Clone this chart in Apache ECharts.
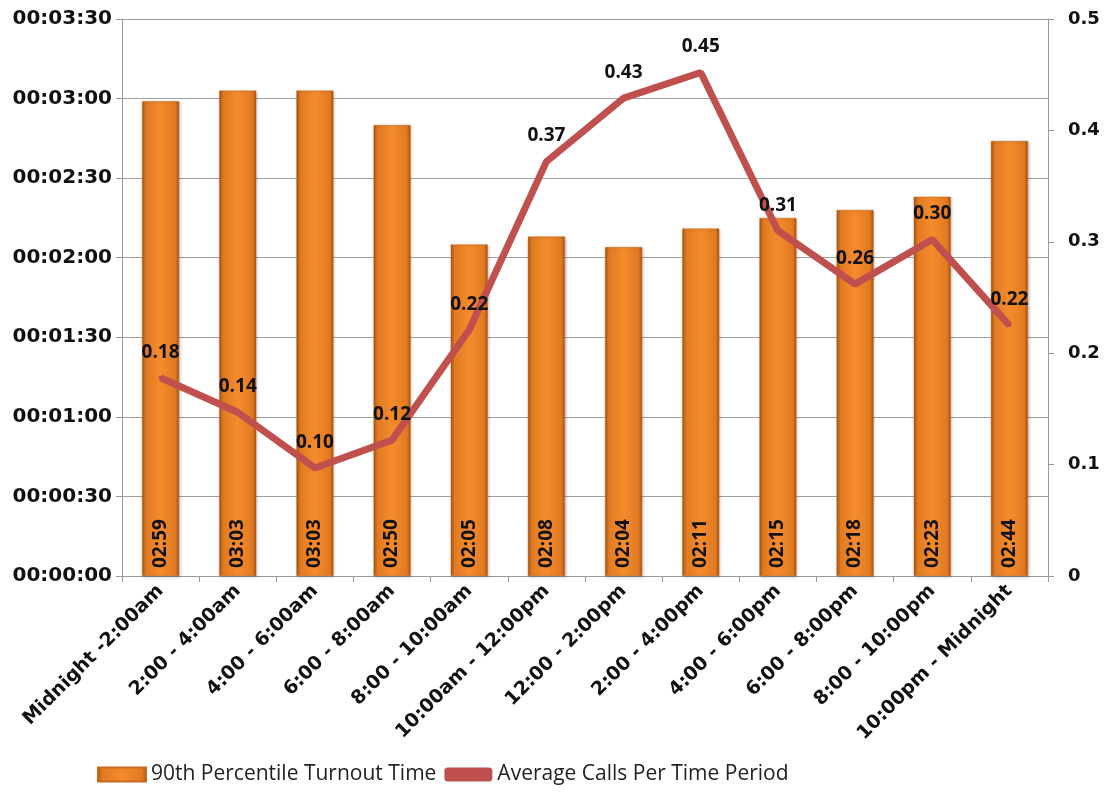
<!DOCTYPE html>
<html><head><meta charset="utf-8">
<script src="https://cdn.jsdelivr.net/npm/echarts@6/dist/echarts.min.js"></script>
<style>html,body{margin:0;padding:0;background:#fff}#c{width:1107px;height:794px}</style>
</head><body><div id="c"></div>
<script>
const categories = ["Midnight -2:00am","2:00 - 4:00am","4:00 - 6:00am","6:00 - 8:00am","8:00 - 10:00am","10:00am - 12:00pm","12:00 - 2:00pm","2:00 - 4:00pm","4:00 - 6:00pm","6:00 - 8:00pm","8:00 - 10:00pm","10:00pm - Midnight"];
const turnoutSeconds = [179,183,183,170,125,128,124,131,135,138,143,164];
const avgCalls = [0.178,0.147,0.097,0.122,0.221,0.372,0.429,0.452,0.31,0.262,0.302,0.225];
const avgCallsLabels = ["0.18","0.14","0.10","0.12","0.22","0.37","0.43","0.45","0.31","0.26","0.30","0.22"];

function pad(n){return (n<10?'0':'')+n;}
function hms(s){return pad(Math.floor(s/3600))+':'+pad(Math.floor(s%3600/60))+':'+pad(s%60);}
function ms(s){return pad(Math.floor(s/60))+':'+pad(s%60);}

const chart = echarts.init(document.getElementById('c'));
const barColor = new echarts.graphic.LinearGradient(0,0,1,0,[
  {offset:0,color:'#A94F0E'},{offset:0.1,color:'#E07A22'},{offset:0.5,color:'#F68B2C'},{offset:0.9,color:'#E07A22'},{offset:1,color:'#A94F0E'}]);
chart.setOption({
  animation:false,
  grid:{left:122,right:59,top:19,bottom:218},
  legend:{bottom:4,left:92,itemGap:8,itemWidth:48,itemHeight:14,
    textStyle:{fontFamily:'Open Sans',fontSize:21,color:'#222'},
    data:[{name:'90th Percentile Turnout Time',icon:'rect'},{name:'Average Calls Per Time Period',icon:'roundRect',itemStyle:{color:'#C0504D',opacity:1}}]},
  xAxis:{type:'category',data:categories,
    axisLine:{lineStyle:{color:'#999'}},
    axisTick:{show:true,alignWithLabel:false,length:6,lineStyle:{color:'#999'}},
    axisLabel:{rotate:45,interval:0,fontFamily:'DejaVu Sans',fontWeight:'bold',fontSize:19,color:'#111',margin:12}},
  yAxis:[
    {type:'value',min:0,max:210,interval:30,
      axisLine:{show:true,lineStyle:{color:'#999'}},
      axisTick:{show:true,length:6,lineStyle:{color:'#999'}},
      splitLine:{lineStyle:{color:'#A0A0A0'}},
      axisLabel:{formatter:v=>hms(v),fontFamily:'DejaVu Sans',fontWeight:'bold',fontSize:20,color:'#111',margin:10}},
    {type:'value',min:0,max:0.5,interval:0.1,position:'right',
      axisLine:{show:true,lineStyle:{color:'#999'}},
      axisTick:{show:true,length:6,lineStyle:{color:'#999'}},
      splitLine:{show:false},
      axisLabel:{formatter:v=>v===0?'0':String(+v.toFixed(1)),fontFamily:'DejaVu Sans',fontWeight:'bold',fontSize:18,color:'#111',margin:20}}
  ],
  series:[
    {name:'90th Percentile Turnout Time',type:'bar',yAxisIndex:0,data:turnoutSeconds,barWidth:'48%',
      itemStyle:{color:barColor,borderColor:'#C86A1E',borderWidth:0.5,shadowColor:'rgba(0,0,0,0.25)',shadowBlur:3,shadowOffsetX:1,shadowOffsetY:1},
      label:{show:true,position:'insideBottom',rotate:90,align:'left',verticalAlign:'middle',distance:8,
        formatter:p=>ms(p.value),fontFamily:'Open Sans',fontWeight:'bold',fontSize:19,color:'#111'}},
    {name:'Average Calls Per Time Period',type:'line',yAxisIndex:1,data:avgCalls,z:3,
      lineStyle:{color:'#C0504D',width:7},itemStyle:{color:'#C0504D'},showSymbol:true,symbol:'circle',symbolSize:4,
      label:{show:true,position:'top',distance:14,formatter:p=>avgCallsLabels[p.dataIndex],
        fontFamily:'Open Sans',fontWeight:'bold',fontSize:19,color:'#111'}}
  ]
});
</script></body></html>
